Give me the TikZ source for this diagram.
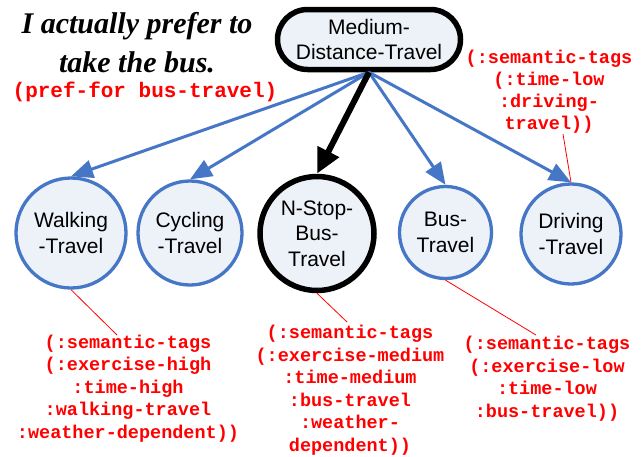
\documentclass[tikz,border=0pt]{standalone}
\usepackage{fontspec}
\setmainfont{Liberation Serif}
\newfontfamily\sansf{Liberation Sans}
\newfontfamily\monof{Liberation Mono}
\usetikzlibrary{arrows.meta}
\definecolor{nodefill}{RGB}{237,241,248}
\definecolor{edgeblue}{RGB}{70,118,198}
\definecolor{tagred}{RGB}{255,0,0}
\begin{document}
\begin{tikzpicture}[x=1pt,y=-1pt,
  concept/.style={circle, draw=edgeblue, line width=3.3pt, fill=nodefill, inner sep=0pt, align=center, font=\sansf\fontsize{21}{25.5}\selectfont, text=black},
  chosen/.style={concept, draw=black, line width=5.5pt},
  topbox/.style={rectangle, rounded corners=30pt, draw=black, line width=5.5pt, fill=nodefill, minimum width=183pt, minimum height=60pt, inner sep=0pt, align=center, font=\sansf\fontsize{21}{25}\selectfont},
  tag/.style={align=center, text=tagred, font=\monof\bfseries\fontsize{18.5}{22.5}\selectfont, inner sep=0pt, anchor=base},
  bluearrow/.style={draw=edgeblue, line width=3pt, -{Triangle[length=22pt,width=18pt]}},
  blackarrow/.style={draw=black, line width=6pt, -{Triangle[length=25pt,width=23pt]}},
  tagline/.style={draw=tagred, line width=0.8pt},
]
\useasboundingbox (0,0) rectangle (642,456);
\fill[white] (0,0) rectangle (642,456);

\node[topbox] (top) at (369,39.5) {Medium-\\Distance-Travel};

\node[concept, minimum size=110pt] (walk) at (71,233) {Walking\\-Travel};
\node[concept, minimum size=104pt] (cyc) at (190,233) {Cycling\\-Travel};
\node[chosen, minimum size=114pt] (nstop) at (317,233.5) {N-Stop-\\Bus-\\Travel};
\node[concept, minimum size=92pt] (bus) at (445.5,232.5) {Bus-\\Travel};
\node[concept, minimum size=100pt] (drive) at (571,234) {Driving\\-Travel};

\draw[bluearrow] (top.south) -- (walk.north);
\draw[bluearrow] (top.south) -- (cyc.north);
\draw[bluearrow] (top.south) -- (bus.north);
\draw[bluearrow] (top.south) -- (drive.north);
\draw[blackarrow] (top.south) -- (nstop.north);

\node[align=center, anchor=base, inner sep=0pt, font=\bfseries\itshape\fontsize{30}{39}\selectfont] (quote) at (137,72) {I actually prefer to\\take the bus.};
\node[tag, font=\monof\bfseries\fontsize{21}{25}\selectfont] (pref) at (145,97) {(pref-for bus-travel)};

\node[tag, font=\monof\bfseries\fontsize{18.5}{22}\selectfont] (tagdrive) at (549,129) {(:semantic-tags\\(:time-low\\:driving-\\travel))};
\node[tag] (tagwalk) at (128,438) {(:semantic-tags\\(:exercise-high\\:time-high\\:walking-travel\\:weather-dependent))};
\node[tag] (tagnstop) at (350,451) {(:semantic-tags\\(:exercise-medium\\:time-medium\\:bus-travel\\:weather-\\dependent))};
\node[tag] (tagbus) at (547,417) {(:semantic-tags\\(:exercise-low\\:time-low\\:bus-travel))};

\coordinate (cwalk) at (117,335);
\coordinate (cnstop) at (347,322);
\coordinate (cbus) at (536,335);
\coordinate (cdrive) at (563,134);
\draw[tagline] (walk.south) -- (cwalk);
\draw[tagline] (nstop.south) -- (cnstop);
\draw[tagline] (bus.south) -- (cbus);
\draw[tagline] (drive.north) -- (cdrive);
\end{tikzpicture}
\end{document}
